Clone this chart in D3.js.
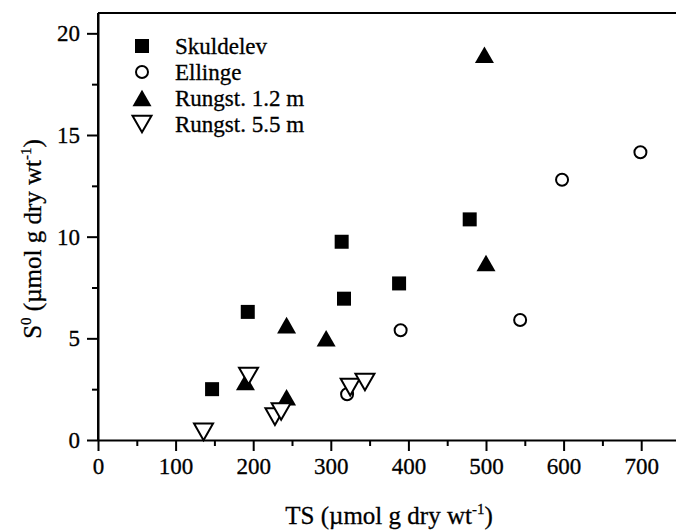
<!DOCTYPE html>
<html>
<head>
<meta charset="utf-8">
<script src="https://cdn.jsdelivr.net/npm/d3@7"></script>
<style>
  body { margin: 0; background: #fff; }
  svg text { font-family: "Liberation Serif", "Times New Roman", serif; fill: #000; stroke: #000; stroke-width: 0.3; }
</style>
</head>
<body>
<svg width="676" height="531"></svg>
<script>
// data: [TS, S0]
const skuldelev = [[147, 2.5], [193, 6.3], [314, 9.75], [317, 6.95], [388, 7.7], [479, 10.85]];
const ellinge = [[321, 2.25], [390, 5.4], [544, 5.9], [598, 12.8], [699, 14.15]];
const rungst12 = [[190, 2.85], [243, 5.65], [243, 2.1], [294, 5.0], [498, 18.95], [500, 8.7]];
const rungst55 = [[136, 0.4], [194, 3.15], [228, 1.15], [236, 1.4], [325, 2.6], [344, 2.85]];

const xTicks = [0, 100, 200, 300, 400, 500, 600, 700];
const yTicks = [0, 5, 10, 15, 20];

const svg = d3.select("svg"),
    margin = { top: 13, right: -4, bottom: 91, left: 98 },
    width = +svg.attr("width") - margin.left - margin.right,
    height = +svg.attr("height") - margin.top - margin.bottom;

const x = d3.scaleLinear().domain([0, 750]).range([0, width]),
    y = d3.scaleLinear().domain([0, 21]).range([height, 0]),
    g = svg.append("g").attr("transform", `translate(${margin.left},${margin.top})`);

// marker shapes, centred on their bounding box
const shapes = {
    square: s => `M${-s / 2},${-s / 2}h${s}v${s}h${-s}Z`,
    up: s => { const h = s * 0.87; return `M0,${-h / 2}L${s / 2},${h / 2}L${-s / 2},${h / 2}Z`; },
    down: s => { const h = s * 0.87; return `M0,${h / 2}L${s / 2},${-h / 2}L${-s / 2},${-h / 2}Z`; }
};

const series = [
    { name: "Skuldelev", data: skuldelev, type: "square", size: 14, fill: "#000" },
    { name: "Ellinge", data: ellinge, type: "circle", size: 14, fill: "#fff" },
    { name: "Rungst. 1.2 m", data: rungst12, type: "up", size: 19, fill: "#000" },
    { name: "Rungst. 5.5 m", data: rungst55, type: "down", size: 19, fill: "#fff" }
];

function drawMarker(sel, s, cx, cy) {
    if (s.type === "circle") {
        sel.append("circle").attr("cx", cx).attr("cy", cy).attr("r", s.size / 2 - 1)
            .attr("fill", s.fill).attr("stroke", "#000").attr("stroke-width", 2);
    } else {
        sel.append("path").attr("d", shapes[s.type](s.size))
            .attr("transform", `translate(${cx},${cy})`)
            .attr("fill", s.fill).attr("stroke", "#000")
            .attr("stroke-width", s.fill === "#000" ? 0 : 2)
            .attr("stroke-linejoin", "miter");
    }
}

// minor ticks
g.append("g").attr("transform", `translate(0,${height})`)
    .call(d3.axisBottom(x).tickValues(d3.range(50, 750, 100)).tickSize(6).tickFormat("").tickSizeOuter(0))
    .call(a => a.select(".domain").remove())
    .selectAll("line").attr("stroke-width", 2);
g.append("g")
    .call(d3.axisLeft(y).tickValues([2.5, 7.5, 12.5, 17.5]).tickSize(6).tickFormat("").tickSizeOuter(0))
    .call(a => a.select(".domain").remove())
    .selectAll("line").attr("stroke-width", 2);

// major axes
const xAxis = g.append("g").attr("transform", `translate(0,${height})`)
    .call(d3.axisBottom(x).tickValues(xTicks).tickSize(11).tickSizeOuter(0).tickPadding(7));
const yAxis = g.append("g")
    .call(d3.axisLeft(y).tickValues(yTicks).tickSize(11).tickSizeOuter(0).tickPadding(7));
[xAxis, yAxis].forEach(a => {
    a.select(".domain").attr("stroke-width", 2);
    a.selectAll("line").attr("stroke-width", 2);
    a.selectAll("text").attr("font-size", 23).attr("font-family", "Liberation Serif, serif");
});
// y axis line extends to the top frame
g.append("line").attr("x1", 0).attr("x2", 0).attr("y1", 0).attr("y2", height)
    .attr("stroke", "#000").attr("stroke-width", 2);
// top frame
g.append("line").attr("x1", 0).attr("x2", width).attr("y1", 0).attr("y2", 0)
    .attr("stroke", "#000").attr("stroke-width", 2);

// points
series.forEach(s => {
    const layer = g.append("g");
    s.data.forEach(d => drawMarker(layer, s, x(d[0]), y(d[1])));
});

// legend
const legend = svg.append("g");
series.forEach((s, i) => {
    const ly = 46 + i * 26;
    drawMarker(legend, s, 142, ly);
    legend.append("text").attr("x", 175).attr("y", ly + 8).attr("font-size", 23).text(s.name);
});

// axis titles
const xt = svg.append("text").attr("x", margin.left + x(375)).attr("y", 524)
    .attr("text-anchor", "middle").attr("font-size", 25);
xt.append("tspan").text("TS (\u00b5mol g dry wt");
xt.append("tspan").attr("font-size", 15).attr("dy", -10).text("-1");
xt.append("tspan").attr("dy", 10).text(")");

const yt = svg.append("text").attr("transform", `translate(41,${margin.top + 226}) rotate(-90)`)
    .attr("text-anchor", "middle").attr("font-size", 25);
yt.append("tspan").text("S");
yt.append("tspan").attr("font-size", 15).attr("dy", -10).text("0");
yt.append("tspan").attr("dy", 10).text(" (\u00b5mol g dry wt");
yt.append("tspan").attr("font-size", 15).attr("dy", -10).text("-1");
yt.append("tspan").attr("dy", 10).text(")");
</script>
</body>
</html>
